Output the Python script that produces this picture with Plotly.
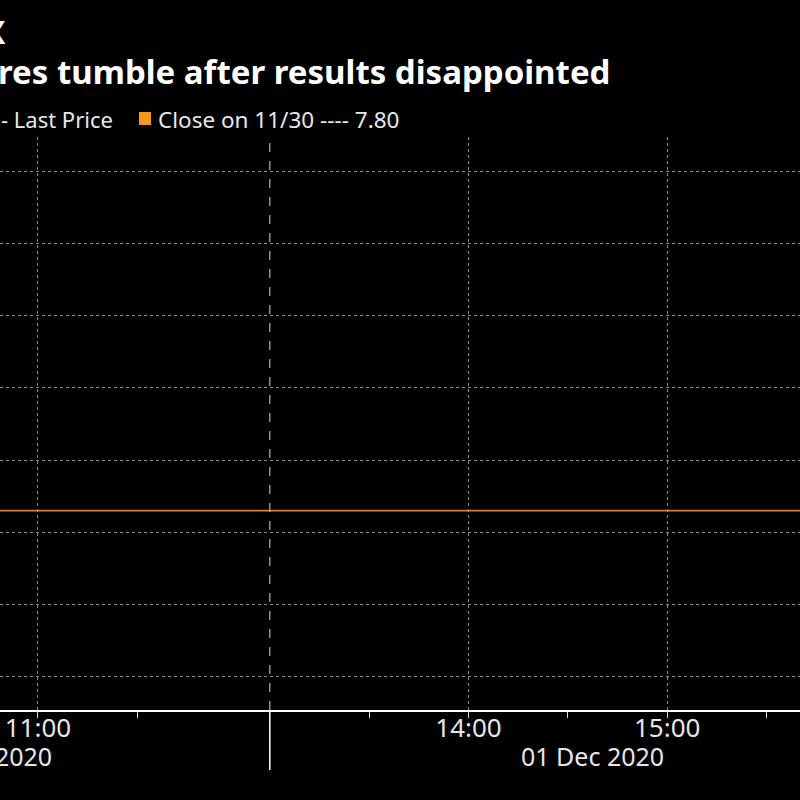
import plotly.graph_objects as go

# ---- data ----
window = ["2020-12-01 10:48:32", "2020-12-01 15:40:06"]   # visible time window
prev_close = 7.80
close_name = "Close on 11/30 ---- 7.80"
lunch_break = ["2020-12-01 12:00:00", "2020-12-01 12:50:00"]
session_break = "2020-12-01 13:00:00"
major_ticks = ["2020-12-01 11:00", "2020-12-01 12:00", "2020-12-01 14:00", "2020-12-01 15:00"]
major_labels = ["11:00", "", "14:00", "15:00"]
minor_ticks = ["2020-12-01 11:30", "2020-12-01 13:30", "2020-12-01 14:30", "2020-12-01 15:30"]
price_grid = [7.57, 7.67, 7.77, 7.87, 7.97, 8.07, 8.17, 8.27]
price_range = [7.5239, 8.3175]
title_line1 = "X"
title_line2 = "res tumble after results disappointed"
date_labels = ["01 Dec 2020", "01 Dec 2020"]

W, H = 800, 800
T, B = 137, 90
PH = H - T - B

def py(p):  # pixel y -> paper y
    return (H - B - p) / PH

def px(p):
    return p / W

FONT = "Noto Sans"
fig = go.Figure()
fig.add_trace(go.Scatter(
    x=window, y=[prev_close, prev_close], mode="lines",
    line=dict(color="#d8823f", width=1.6), name=close_name, showlegend=False,
    hoverinfo="skip"))

fig.update_layout(
    width=W, height=H,
    paper_bgcolor="#000000", plot_bgcolor="#000000",
    margin=dict(l=0, r=0, t=T, b=B),
    showlegend=False,
    font=dict(family=FONT, color="#e8e8e8"),
    xaxis=dict(
        type="date", range=window,
        rangebreaks=[dict(bounds=lunch_break)],
        tickmode="array", tickvals=major_ticks, ticktext=major_labels,
        ticks="outside", ticklen=6, tickcolor="#dddddd", tickwidth=1,
        tickfont=dict(size=26, color="#e6e6e6", family=FONT),
        ticklabelstandoff=-12,
        showline=True, linecolor="#ffffff", linewidth=1.5,
        showgrid=True, gridcolor="#8c8c8c", griddash="dot", gridwidth=1,
        minor=dict(tickmode="array", tickvals=minor_ticks, ticks="outside",
                   ticklen=6, tickcolor="#dddddd", showgrid=False),
        zeroline=False, fixedrange=True,
    ),
    yaxis=dict(
        range=price_range, tickmode="array", tickvals=price_grid,
        showticklabels=False, ticks="",
        showgrid=True, gridcolor="#8c8c8c", griddash="dot", gridwidth=1,
        zeroline=False, showline=False, fixedrange=True,
    ),
)

# session separator
fig.add_shape(type="line", xref="x", yref="paper", x0=session_break, x1=session_break,
              y0=0, y1=1, line=dict(color="#b5b5b5", width=1.2, dash="dash"))
fig.add_shape(type="line", xref="x", yref="paper", x0=session_break, x1=session_break,
              y0=py(770), y1=0, line=dict(color="#ffffff", width=1.5))

anns = []
anns.append(dict(text=f"<b>{title_line1}</b>", x=px(8), y=py(31), xanchor="right", yanchor="middle",
                 font=dict(size=32, color="#ffffff", family=FONT)))
anns.append(dict(text=f"<b>{title_line2}</b>", x=px(-4), y=py(71), xanchor="left", yanchor="middle",
                 font=dict(size=33, color="#ffffff", family=FONT)))
anns.append(dict(text="- Last Price", x=px(-1), y=py(119), xanchor="left", yanchor="middle",
                 font=dict(size=22, color="#e8e8e8", family=FONT)))
anns.append(dict(text=close_name, x=px(156), y=py(119), xanchor="left", yanchor="middle",
                 font=dict(size=22.5, color="#e8e8e8", family=FONT)))
anns.append(dict(text=date_labels[0], x=px(54), y=py(756), xanchor="right", yanchor="middle",
                 font=dict(size=25, color="#e6e6e6", family=FONT)))
anns.append(dict(text=date_labels[1], x=px(592), y=py(756), xanchor="center", yanchor="middle",
                 font=dict(size=25, color="#e6e6e6", family=FONT)))
for a in anns:
    a.update(xref="paper", yref="paper", showarrow=False)
fig.update_layout(annotations=anns)

# legend square
fig.add_shape(type="rect", xref="paper", yref="paper", x0=px(139), x1=px(151),
              y0=py(125), y1=py(112), fillcolor="#f39a1e", line=dict(width=0))

fig.write_html("out.html", config={"displayModeBar": False},
               post_script="document.body.style.margin='0';document.body.style.overflow='hidden';")
